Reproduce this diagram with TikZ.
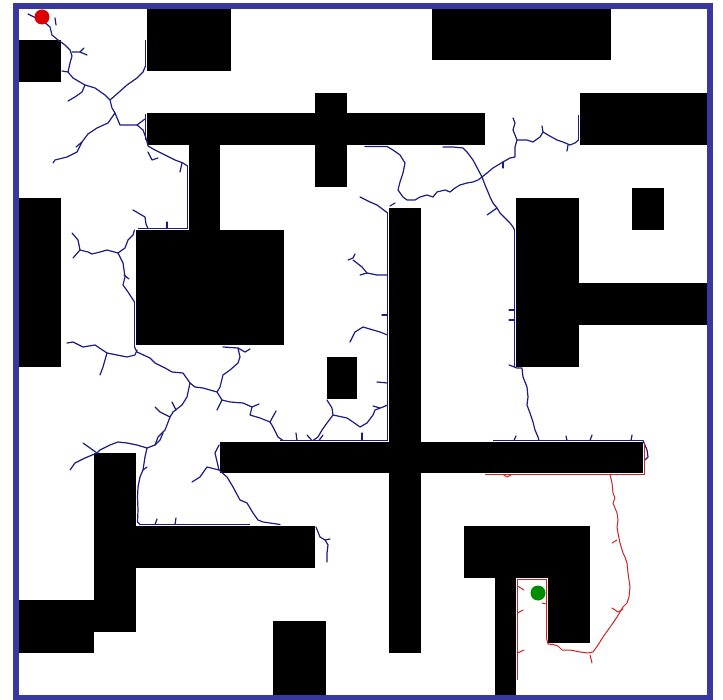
\documentclass[tikz,border=0pt]{standalone}
\definecolor{frameblue}{RGB}{56,56,158}
\definecolor{treeblue}{RGB}{28,28,135}
\definecolor{treered}{RGB}{205,35,35}
\definecolor{startred}{RGB}{220,0,0}
\definecolor{goalgreen}{RGB}{0,140,0}
\begin{document}
\begin{tikzpicture}[x=1pt,y=-1pt,
  obst/.style={fill=black},
  bt/.style={treeblue,line width=1.2pt,line join=round,line cap=round},
  edgeb/.style={treeblue,line width=1.6pt},
  rt/.style={treered,line width=1pt,line join=round,line cap=round},
  edger/.style={treered,line width=1.4pt},
  border/.style={frameblue,line width=6pt}]
\useasboundingbox (0,0) rectangle (723,700);
\fill[white] (0,0) rectangle (723,700);
% obstacles
\fill[obst] (19,40) rectangle (61,82);
\fill[obst] (147,9) rectangle (231,71);
\fill[obst] (432,9) rectangle (611,60);
\fill[obst] (580,93) rectangle (707,145);
\fill[obst] (147,113) rectangle (485,145);
\fill[obst] (189,145) rectangle (220,230);
\fill[obst] (315,93) rectangle (347,187);
\fill[obst] (136,230) rectangle (284,345);
\fill[obst] (19,198) rectangle (61,367);
\fill[obst] (632,188) rectangle (664,230);
\fill[obst] (516,198) rectangle (579,367);
\fill[obst] (579,283) rectangle (707,325);
\fill[obst] (327,357) rectangle (357,399);
\fill[obst] (389,208) rectangle (421,653);
\fill[obst] (220,442) rectangle (643,473);
\fill[obst] (94,453) rectangle (136,632);
\fill[obst] (136,526) rectangle (315,568);
\fill[obst] (19,600) rectangle (94,653);
\fill[obst] (273,621) rectangle (326,696);
\fill[obst] (464,526) rectangle (590,578);
\fill[obst] (495,578) rectangle (516,696);
\fill[obst] (548,578) rectangle (590,643);
% blue tree
\draw[bt] (28,14) -- (36,18) -- (42,20);
\draw[bt] (55,18) -- (56,25);
\draw[bt] (42,20) -- (50,27) -- (52,35) -- (58,40) -- (65,45) -- (70,50) -- (72,56) -- (70,63) -- (68,72) -- (73,78) -- (85,85) -- (95,88) -- (105,95) -- (110,100) -- (112,108) -- (115,113) -- (120,125) -- (130,125) -- (137,125) -- (145,119);
\draw[bt] (137,125) -- (143,130) -- (146,138) -- (148,146) -- (155,150) -- (165,155) -- (175,160) -- (183,163) -- (187.5,166);
\draw[edgeb] (187.5,166) -- (187.5,229);
\draw[edgeb] (145.5,114) -- (145.5,140);
\draw[bt] (72,52) -- (80,52) -- (87,55);
\draw[bt] (80,52) -- (84,48);
\draw[bt] (68,72) -- (62,71);
\draw[bt] (85,85) -- (82,92) -- (75,97) -- (68,101);
\draw[bt] (115,113) -- (108,123) -- (97,128) -- (88,134) -- (82,142) -- (77,152) -- (67,157) -- (55,160) -- (53,163);
\draw[bt] (82,142) -- (76,147);
\draw[bt] (110,100) -- (118,93) -- (127,85) -- (137,78) -- (143,72) -- (145.5,66);
\draw[edgeb] (145.5,66) -- (145.5,40);
\draw[bt] (148,152) -- (152,160) -- (158,158);
\draw[bt] (182,163) -- (180,172);
% around big block
\draw[bt] (133,210) -- (145,217) -- (146,224) -- (148,228.5);
\draw[edgeb] (138,228.5) -- (187.5,228.5);
\draw[bt] (167,222) -- (167,228.5);
\draw[bt] (72,233) -- (78,240) -- (80,250) -- (73,258);
\draw[bt] (80,250) -- (88,252) -- (92,254) -- (100,252) -- (107,250) -- (118,253) -- (125,248) -- (128,240) -- (133,235) -- (134.5,230);
\draw[bt] (118,253) -- (123,263) -- (125,277) -- (123,285) -- (128,292) -- (134.5,302);
\draw[edgeb] (134.5,302) -- (134.5,347);
\draw[bt] (124,275) -- (129,279);
\draw[bt] (134.5,347) -- (137,352) -- (150,358) -- (155,363) -- (165,368) -- (172,372) -- (183,373) -- (190,383) -- (195,387) -- (203,388) -- (217,392) -- (222,400) -- (230,402) -- (243,403) -- (252,407) -- (250,415) -- (260,418) -- (270,422) -- (273,427) -- (278,437) -- (283,440.5);
\draw[bt] (67,343) -- (73,342) -- (83,347) -- (95,345) -- (107,353) -- (117,355) -- (127,357) -- (135,355) -- (137,350);
\draw[bt] (107,353) -- (103,367) -- (100,375);
\draw[bt] (217,392) -- (220,387) -- (223,375) -- (230,370) -- (238,363) -- (240,357) -- (238,348) -- (223,347);
\draw[bt] (238,348) -- (245,352) -- (250,349);
\draw[bt] (222,400) -- (217,410);
\draw[bt] (252,407) -- (259,404);
\draw[bt] (270,422) -- (276,411);
\draw[bt] (190,383) -- (187,397) -- (182,405) -- (173,412) -- (170,417) -- (167,425) -- (165,430) -- (158,437) -- (155,445) -- (147,448) -- (137,445) -- (127,443) -- (118,442) -- (110,445) -- (100,450) -- (97,453) -- (85,458) -- (75,463) -- (70,470);
\draw[bt] (97,453) -- (83,443);
\draw[bt] (170,417) -- (160,412) -- (155,407);
\draw[bt] (176,410) -- (172,402);
\draw[bt] (155,445) -- (160,440) -- (163,433);
\draw[bt] (147,448) -- (145,457) -- (143,470) -- (140,477) -- (138,487) -- (137.5,497) -- (138,510) -- (137.5,522) -- (140,524.5);
\draw[edgeb] (140,524.5) -- (250,524.5);
\draw[bt] (155,524.5) -- (157,519);
\draw[bt] (175,524.5) -- (176,518);
\draw[bt] (143,470) -- (147,467);
% left end of long bar
\draw[bt] (219,445) -- (215,453) -- (219,470) -- (207,467) -- (200,477) -- (192,482);
\draw[bt] (219,470) -- (227,477) -- (233,487) -- (240,500) -- (247,503) -- (253,513) -- (258,520) -- (263,522) -- (270,523) -- (280,524.5);
\draw[bt] (316,527) -- (320,537) -- (325,540) -- (328,545) -- (327,553) -- (327,562);
\draw[bt] (325,540) -- (330,539);
% small square region
\draw[bt] (327,400) -- (332,408) -- (333,415) -- (327,423) -- (322,430) -- (318,437) -- (313,440.5);
\draw[bt] (333,415) -- (347,418) -- (353,422) -- (360,427) -- (367,423) -- (373,415) -- (375,410) -- (383,407) -- (387.5,405);
\draw[bt] (373,406) -- (380,408);
\draw[bt] (362,433) -- (362,440.5);
\draw[edgeb] (280,440.5) -- (387.5,440.5);
\draw[bt] (297,440.5) -- (296,433);
\draw[bt] (312,440.5) -- (307,435);
\draw[bt] (319,440.5) -- (323,435);
\draw[edgeb] (387.5,213) -- (387.5,440.5);
\draw[bt] (350,342) -- (355,332) -- (363,327) -- (380,332) -- (387.5,335);
\draw[bt] (377,382) -- (387.5,383);
\draw[bt] (382,315) -- (387.5,315);
\draw[bt] (348,260) -- (353,258) -- (355,254);
\draw[bt] (353,260) -- (362,267) -- (367,273) -- (377,275) -- (387.5,275);
\draw[bt] (360,275) -- (367,273);
% under bar 5
\draw[bt] (365,146.5) -- (387,146.5) -- (393,150) -- (400,155) -- (405,163) -- (403,173) -- (400,182) -- (398,190) -- (403,197) -- (407,200) -- (415,200) -- (420,197) -- (427,195) -- (433,197) -- (437,192) -- (445,190) -- (450,192) -- (455,188) -- (460,185) -- (467,183) -- (473,182) -- (478,180) -- (482,177);
\draw[bt] (360,197) -- (370,202) -- (377,205) -- (385,211) -- (387.5,213);
\draw[bt] (395,203) -- (390,206);
\draw[bt] (482,177) -- (473,160) -- (467,152) -- (463,148) -- (453,147) -- (443,147);
\draw[bt] (482,177) -- (487,173) -- (493,168) -- (503,162) -- (510,158) -- (515,157) -- (515,147) -- (517,140) -- (513,130) -- (515,123) -- (513,118);
\draw[bt] (503,162) -- (503,168);
\draw[bt] (517,140) -- (527,140) -- (533,142) -- (540,137) -- (543,132) -- (548,135) -- (557,140) -- (563,142) -- (570,145) -- (575,143) -- (578.5,140);
\draw[edgeb] (578.5,140) -- (578.5,115);
\draw[bt] (543,132) -- (542,126);
\draw[bt] (568,145) -- (567,151);
\draw[bt] (482,177) -- (485,185) -- (488,192) -- (490,197) -- (493,203) -- (497,208) -- (500,213) -- (505,218) -- (510,223) -- (513,227) -- (514.5,230);
\draw[bt] (497,208) -- (487,215);
\draw[edgeb] (514.5,230) -- (514.5,367);
\draw[bt] (509,320) -- (514.5,320);
\draw[bt] (509,310) -- (514.5,310);
\draw[bt] (509,365) -- (517,368) -- (522,368) -- (523,377) -- (527,387) -- (528,397) -- (527,405) -- (530,413) -- (533,422) -- (535,430) -- (538,437) -- (539,440.5);
\draw[edgeb] (493,440.5) -- (643,440.5);
\draw[bt] (643,440.5) -- (647,450) -- (648,457) -- (645,460);
\draw[bt] (567,440.5) -- (566,436);
\draw[bt] (590,440.5) -- (592,435);
\draw[bt] (631,440.5) -- (632,435);
\draw[bt] (514,440.5) -- (516,436);
% red tree
\draw[edger] (485,474.5) -- (644.5,474.5) -- (644.5,443);
\draw[rt] (503,474.5) -- (507,477) -- (511,475);
\draw[rt] (610,474.5) -- (612,483) -- (613,493) -- (615,498) -- (613,503) -- (617,513) -- (618,520) -- (617,527) -- (618,533) -- (620,543) -- (623,553) -- (625,557) -- (627,563) -- (628,573) -- (630,587) -- (629,597) -- (627,603) -- (623,607) -- (620,612) -- (617,617) -- (613,623) -- (608,630) -- (603,637) -- (598,645) -- (593,652) -- (588,653) -- (580,652) -- (570,650) -- (562,650) -- (558,646) -- (553,644.5) -- (548,644) -- (546.5,638);
\draw[edger] (546.5,638) -- (546.5,579.5) -- (517.5,579.5) -- (517.5,680);
\draw[rt] (612,608) -- (618,612) -- (623,609);
\draw[rt] (617,540) -- (612,543);
\draw[rt] (590,655) -- (592,663);
\draw[rt] (517.5,613) -- (523,610);
\draw[rt] (517.5,653) -- (524,650);
\draw[rt] (542,603) -- (546.5,604);
\draw[rt] (517.5,586) -- (524,590);
% frame
\draw[border] (16,6) rectangle (710,698);
% start and goal
\fill[startred] (42,17) circle (7.5);
\fill[goalgreen] (538,593) circle (7.5);
\end{tikzpicture}
\end{document}
